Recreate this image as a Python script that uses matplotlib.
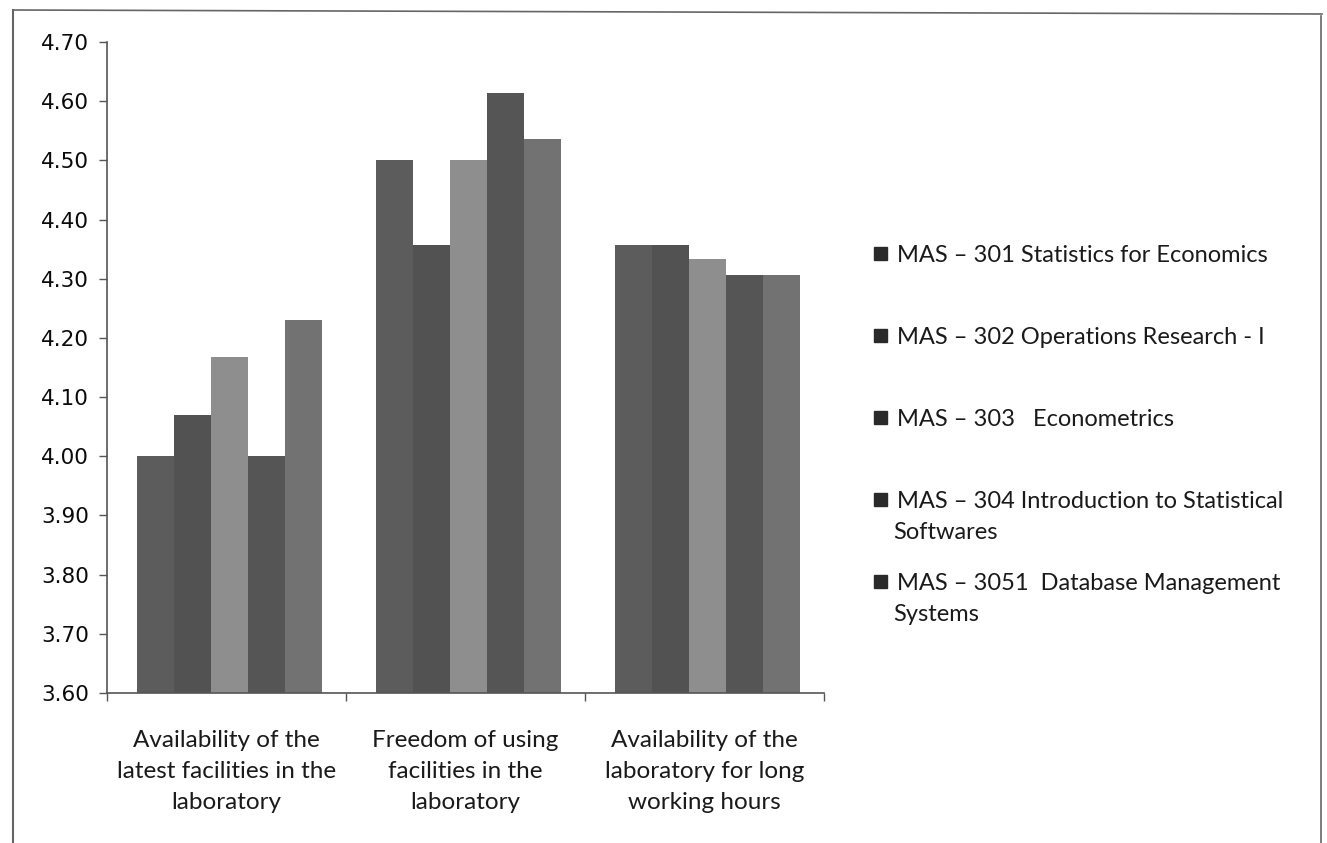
import matplotlib
matplotlib.use("Agg")
import matplotlib.pyplot as plt
import matplotlib.transforms as mtransforms
import numpy as np
from matplotlib.patches import Rectangle

categories = ["Availability of the\nlatest facilities in the\nlaboratory",
              "Freedom of using\nfacilities in the\nlaboratory",
              "Availability of the\nlaboratory for long\nworking hours"]
series_names = ["MAS \u2013 301 Statistics for Economics",
                "MAS \u2013 302 Operations Research - I",
                "MAS \u2013 303   Econometrics",
                "MAS \u2013 304 Introduction to Statistical\nSoftwares",
                "MAS \u2013 3051  Database Management\nSystems"]
mas301 = [4.00, 4.50, 4.357]
mas302 = [4.07, 4.357, 4.357]
mas303 = [4.167, 4.50, 4.333]
mas304 = [4.00, 4.614, 4.307]
mas3051 = [4.23, 4.536, 4.307]
series = [mas301, mas302, mas303, mas304, mas3051]
colors = ["#5c5c5c", "#525252", "#8e8e8e", "#555555", "#727272"]
yticks = [3.60, 3.70, 3.80, 3.90, 4.00, 4.10, 4.20, 4.30, 4.40, 4.50, 4.60, 4.70]

fig = plt.figure(figsize=(13.27, 8.43), dpi=100)
ax = fig.add_axes([107/1327, 1 - 693/843, (824-107)/1327, (693-42)/843])

x = np.arange(len(categories))
bw = 0.155
for i, (vals, c) in enumerate(zip(series, colors)):
    ax.bar(x + (i - 2) * bw + 0.012, vals, width=bw, color=c, edgecolor="none", label=series_names[i])

ax.set_xlim(-0.5, 2.5)
ax.set_ylim(3.60, 4.70)
ax.set_yticks(yticks)
ax.set_yticklabels([f"{t:.2f}" for t in yticks], fontfamily="DejaVu Sans", fontsize=15.5, color="#0a0a0a")
ax.set_xticks([-0.5, 0.5, 1.5, 2.5])
ax.set_xticklabels([])
ax.tick_params(axis="y", direction="out", length=6, width=1, color="#555555", pad=7)
ax.tick_params(axis="x", direction="out", length=6, width=1, color="#555555")
for s in ["top", "right"]:
    ax.spines[s].set_visible(False)
for s in ["left", "bottom"]:
    ax.spines[s].set_color("#555555")
    ax.spines[s].set_linewidth(1.2)

trans = mtransforms.blended_transform_factory(ax.transData, fig.transFigure)
for xi, lab in zip(x, categories):
    ax.text(xi, 1 - 730/843, lab, transform=trans,
            ha="center", va="top", fontsize=17.5, fontfamily="Lato", color="#1a1a1a", linespacing=1.58)

# legend
leg_base = [262, 344, 426, 508, 590]
for yy, name, c in zip(leg_base, series_names, colors):
    fig.patches.append(Rectangle((874/1327, 1 - (yy - 2)/843), 13/1327, 13/843,
                                 transform=fig.transFigure, color="#2a2a2a"))
    lines = name.split("\n")
    for k, ln in enumerate(lines):
        fig.text((897 if k == 0 else 893)/1327, 1 - (yy + 31*k)/843, ln, ha="left", va="baseline",
                 fontsize=17, fontfamily="Lato", color="#1a1a1a")

# page frame
fig.add_artist(plt.Line2D([13/1327, 13/1327], [0, 1 - 10/843], transform=fig.transFigure, color="#666666", lw=1.5))
fig.add_artist(plt.Line2D([13/1327, 1322/1327], [1 - 10/843, 1 - 14/843], transform=fig.transFigure, color="#666666", lw=1.2))
fig.add_artist(plt.Line2D([1321/1327, 1321/1327], [0, 1 - 16/843], transform=fig.transFigure, color="#666666", lw=1.2))

fig.savefig("out.png", dpi=100)
